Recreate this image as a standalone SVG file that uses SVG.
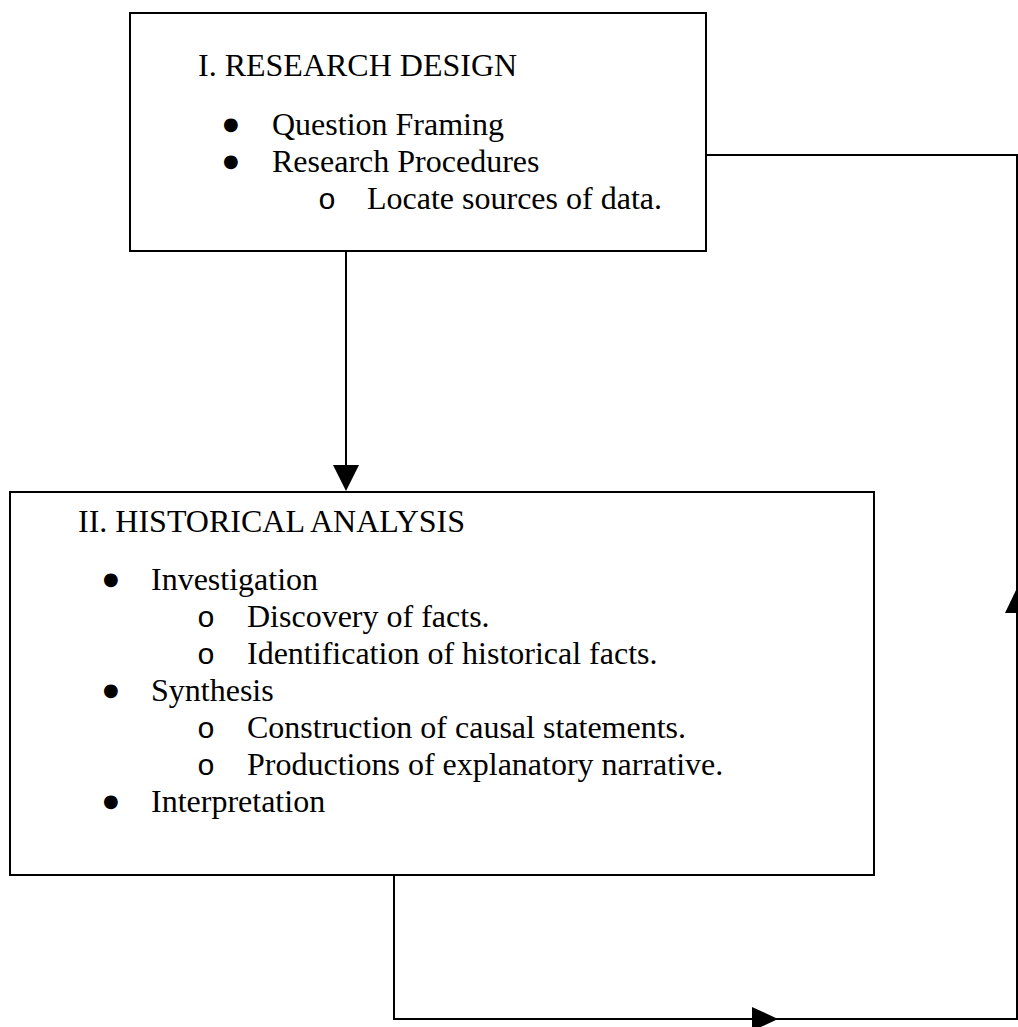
<svg xmlns="http://www.w3.org/2000/svg" width="1018" height="1027" viewBox="0 0 1018 1027">
<style>
.box{fill:#fff;stroke:#000;stroke-width:2}
.t{font-family:"Liberation Serif","Times New Roman",serif;font-size:32px;fill:#000}
.b{font-family:"DejaVu Sans",sans-serif;font-size:18px;fill:#000}
.o{font-family:"Liberation Mono","Courier New",monospace;font-size:30px;fill:#000}
.ln{fill:none;stroke:#000;stroke-width:2}
.ah{fill:#000}
</style>
<rect width="1018" height="1027" fill="#fff"/>
<g id="connectors">
<line class="ln" x1="346" y1="251" x2="346" y2="480"/>
<polygon class="ah" points="333,465 359,465 346,491"/>
<polyline class="ln" points="394,876 394,1019 1017,1019 1017,155 706,155"/>
<polygon class="ah" points="752,1007 752,1031 778,1019"/>
<polygon class="ah" points="1005,613 1029,613 1017,588"/>
</g>
<g id="node-research-design">
<rect class="box" x="130" y="13" width="576" height="238"/>
<text class="t" x="198" y="76">I. RESEARCH DESIGN</text>
<text class="b" x="223" y="130">●</text>
<text class="t" x="272" y="135">Question Framing</text>
<text class="b" x="223" y="167">●</text>
<text class="t" x="272" y="172">Research Procedures</text>
<text class="o" x="318" y="209">o</text>
<text class="t" x="367" y="209">Locate sources of data.</text>
</g>
<g id="node-historical-analysis">
<rect class="box" x="10" y="492" width="864" height="383"/>
<text class="t" x="78" y="532">II. HISTORICAL ANALYSIS</text>
<text class="b" x="103" y="585">●</text>
<text class="t" x="151" y="590">Investigation</text>
<text class="o" x="197" y="627">o</text>
<text class="t" x="247" y="627">Discovery of facts.</text>
<text class="o" x="197" y="664">o</text>
<text class="t" x="247" y="664">Identification of historical facts.</text>
<text class="b" x="103" y="696">●</text>
<text class="t" x="151" y="701">Synthesis</text>
<text class="o" x="197" y="738">o</text>
<text class="t" x="247" y="738">Construction of causal statements.</text>
<text class="o" x="197" y="775">o</text>
<text class="t" x="247" y="775">Productions of explanatory narrative.</text>
<text class="b" x="103" y="807">●</text>
<text class="t" x="151" y="812">Interpretation</text>
</g>
</svg>
